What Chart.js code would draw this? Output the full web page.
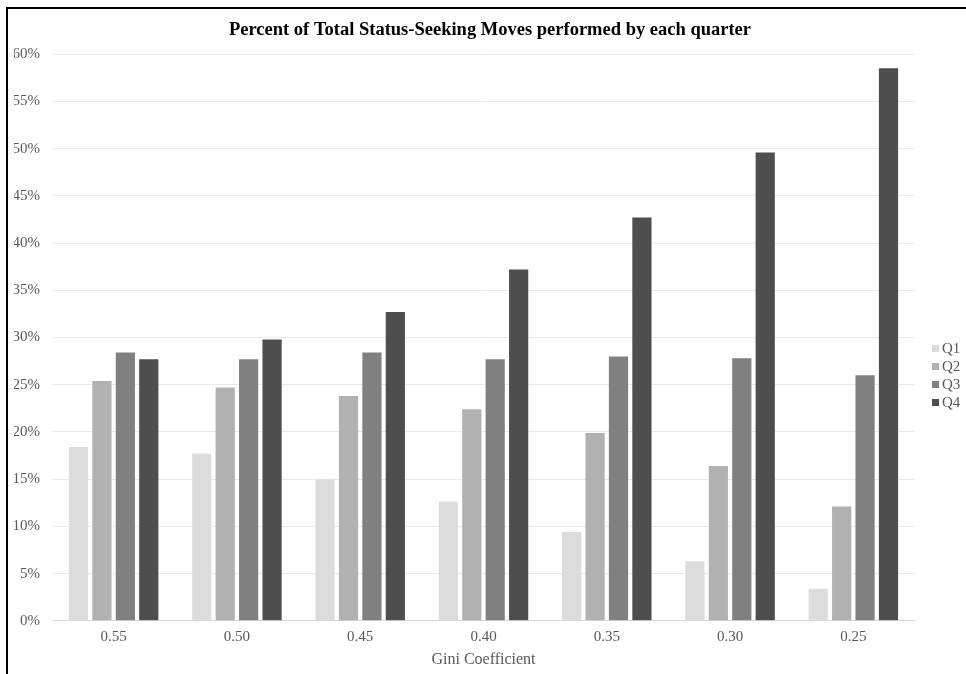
<!DOCTYPE html>
<html>
<head>
<meta charset="utf-8">
<script src="https://cdn.jsdelivr.net/npm/chart.js@4"></script>
<style>
  html, body { margin: 0; padding: 0; background: #fff; }
  body { width: 966px; height: 674px; position: relative; overflow: hidden; }
  #frame {
    position: absolute; left: 6px; top: 7px; right: 0; bottom: 0;
    border-left: 2px solid #000; border-top: 2px solid #000;
  }
  #wrap { position: absolute; left: 8px; top: 9px; width: 958px; height: 665px; }
  #legend {
    position: absolute; left: 932px; top: 339px;
    font-family: "Liberation Serif", serif; font-size: 15px; color: #595959;
  }
  .item { height: 18px; line-height: 18px; white-space: nowrap; }
  .sw { display: inline-block; width: 7px; height: 7px; margin-right: 3px; vertical-align: 1px; }
</style>
</head>
<body>
<div id="frame"></div>
<div id="wrap"><canvas id="chart"></canvas></div>
<div id="legend"></div>
<script>
// Gini coefficient groups
const giniLabels = ['0.55', '0.50', '0.45', '0.40', '0.35', '0.30', '0.25'];

// percent of total status-seeking moves per quarter
const q1 = [18.4, 17.7, 15.0, 12.6, 9.4, 6.3, 3.4];
const q2 = [25.4, 24.7, 23.8, 22.4, 19.9, 16.4, 12.1];
const q3 = [28.4, 27.7, 28.4, 27.7, 28.0, 27.8, 26.0];
const q4 = [27.7, 29.8, 32.7, 37.2, 42.7, 49.6, 58.5];

const seriesNames = ['Q1', 'Q2', 'Q3', 'Q4'];
const seriesColors = ['#dcdcdc', '#b1b1b1', '#808080', '#4e4e4e'];
const seriesData = [q1, q2, q3, q4];

const tickColor = '#595959';
const serif = '"Liberation Serif", "Times New Roman", serif';

const datasets = seriesNames.map((name, i) => ({
    label: name,
    data: seriesData[i],
    backgroundColor: seriesColors[i],
    borderWidth: 0,
    barPercentage: 0.82,
    categoryPercentage: 0.76
}));

new Chart(document.getElementById('chart'), {
    type: 'bar',
    data: { labels: giniLabels, datasets: datasets },
    options: {
        responsive: true,
        maintainAspectRatio: false,
        animation: false,
        layout: { padding: { left: 6, right: 0, top: 0, bottom: 5 } },
        plugins: {
            legend: { display: false },
            tooltip: { enabled: false },
            title: {
                display: true,
                text: 'Percent of Total Status-Seeking Moves performed by each quarter',
                color: '#000',
                font: { family: serif, size: 18.5, weight: 'bold' },
                padding: { top: 10, bottom: 13 }
            }
        },
        scales: {
            x: {
                grid: { display: false, drawTicks: false },
                border: { color: '#d9d9d9' },
                ticks: { color: tickColor, font: { family: serif, size: 15 }, padding: 7 },
                title: {
                    display: true,
                    text: 'Gini Coefficient',
                    color: tickColor,
                    font: { family: serif, size: 16 },
                    padding: { top: -3, bottom: 0 }
                }
            },
            y: {
                min: 0,
                max: 60,
                afterFit: (scale) => { scale.width = 38; },
                grid: { color: '#e9e9e9', drawTicks: false },
                border: { display: false },
                ticks: {
                    stepSize: 5,
                    color: tickColor,
                    font: { family: serif, size: 15 },
                    padding: 12,
                    callback: (v) => v + '%'
                }
            },
            // empty space on the right where the legend sits
            yRight: {
                position: 'right',
                afterFit: (scale) => { scale.width = 51; },
                grid: { display: false, drawTicks: false },
                border: { display: false },
                ticks: { display: false }
            }
        }
    }
});

// legend on the right
const legendEl = document.getElementById('legend');
seriesNames.forEach((name, i) => {
    const row = document.createElement('div');
    row.className = 'item';
    const sw = document.createElement('span');
    sw.className = 'sw';
    sw.style.background = seriesColors[i];
    row.appendChild(sw);
    row.appendChild(document.createTextNode(name));
    legendEl.appendChild(row);
});
</script>
</body>
</html>
